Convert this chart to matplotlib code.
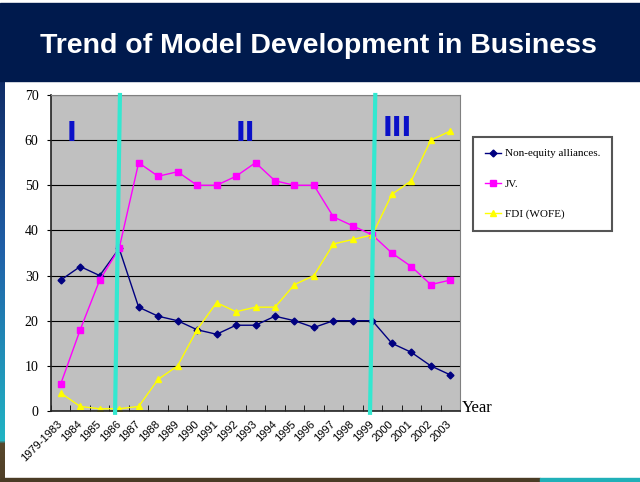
import numpy as np
import matplotlib
matplotlib.use('Agg')
import matplotlib.pyplot as plt
from matplotlib.patches import Rectangle

years = ['1979-1983', '1984', '1985', '1986', '1987', '1988', '1989', '1990',
         '1991', '1992', '1993', '1994', '1995', '1996', '1997', '1998',
         '1999', '2000', '2001', '2002', '2003']
non_equity = [29, 32, 30, 36, 23, 21, 20, 18, 17, 19, 19, 21, 20, 18.5, 20, 20,
              20, 15, 13, 10, 8]
jv = [6, 18, 29, 36, 55, 52, 53, 50, 50, 52, 55, 51, 50, 50, 43, 41,
      39, 35, 32, 28, 29]
fdi = [4, 1, 0.5, 0.5, 1, 7, 10, 18, 24, 22, 23, 23, 28, 30, 37, 38,
       39, 48, 51, 60, 62]
series_names = ['Non-equity alliances.', 'JV.', 'FDI (WOFE)']
phase_labels = ['I', 'II', 'III']

W, H = 640, 482
fig = plt.figure(figsize=(W / 100, H / 100), dpi=100, facecolor='white')

# slide decoration (header band, side strip)
bg = fig.add_axes([0, 0, 1, 1], zorder=-5)
bg.axis('off')
bg.add_patch(Rectangle((0, 3), W, 78, color='#001A4D'))
stops_y = [81, 250, 440, 443, 478]
stops_c = np.array([[0x10, 0x2c, 0x66], [0x20, 0x60, 0xa8], [0x22, 0xb4, 0xc4],
                    [0x58, 0x48, 0x2c], [0x50, 0x40, 0x28]]) / 255
yy = np.arange(81, 478)
grad = np.stack([np.interp(yy, stops_y, stops_c[:, k]) for k in range(3)], axis=1)
bg.imshow(grad[:, None, :], extent=[0, 5, 478, 81], aspect='auto', origin='upper')
bg.add_patch(Rectangle((0, 478), 540, 4, color='#4A3C25'))
bg.add_patch(Rectangle((540, 478), 100, 4, color='#20B0B8'))
bg.set_xlim(0, W)
bg.set_ylim(H, 0)

fig.text(0.497, 1 - 46 / H, 'Trend of Model Development in Business', color='white',
         fontsize=20.5, fontweight='bold', family='Liberation Sans', ha='center', va='center')

ax = fig.add_axes([51 / W, 71 / H, 409 / W, 316 / H])
x = np.arange(len(years))
ax.set_facecolor('#C0C0C0')
ax.set_xlim(-0.5, len(years) - 0.5)
ax.set_ylim(0, 70)
ax.set_yticks(range(0, 71, 10))
ax.yaxis.grid(True, color='black', lw=0.8)
ax.set_axisbelow(True)

ax.set_xticks(x)
ax.set_xticklabels(years, rotation=45, ha='right', va='center', rotation_mode='anchor',
                   fontsize=8, family='Liberation Sans')
ax.set_xticks(np.arange(-0.5, len(years)), minor=True)
ax.tick_params(axis='x', which='major', length=0, pad=8)
ax.tick_params(axis='x', which='minor', direction='in', length=4, color='black')
ax.tick_params(axis='y', direction='out', length=3, labelsize=10, pad=6)
for lab in ax.get_yticklabels():
    lab.set_family('Liberation Serif')

for side in ['top', 'right']:
    ax.spines[side].set_color('#808080')
for side in ['left', 'bottom']:
    ax.spines[side].set_color('#222222')
    ax.spines[side].set_linewidth(1.2)

ax.plot(x, non_equity, color='#000080', marker='D', ms=3.5, lw=1, label=series_names[0])
ax.plot(x, jv, color='#FF00FF', marker='s', ms=4, lw=1, label=series_names[1])
ax.plot(x, fdi, color='#FFFF00', marker='^', ms=5, lw=1, label=series_names[2])

# phase dividers (slightly slanted, as drawn on the slide)
ax.plot([3.04, 2.79], [70, -0.4], color='#33E8D0', lw=3, clip_on=False, zorder=5)
ax.plot([16.15, 15.88], [70, -0.4], color='#33E8D0', lw=3, clip_on=False, zorder=5)

for lab, px, py in zip(phase_labels, [0.53, 9.46, 17.27], [61.4, 61.4, 62.5]):
    ax.text(px, py, lab, color='#0A10C8', fontsize=19, fontweight='bold',
            family='Liberation Sans Narrow', ha='center', va='center')

fig.text(462 / W, 1 - 412 / H, 'Year', family='Liberation Serif', fontsize=12,
         va='baseline', ha='left')

leg = ax.legend(loc='upper left', bbox_to_anchor=(473 / W, 1 - 137 / H),
                bbox_transform=fig.transFigure, prop={'family': 'Liberation Serif', 'size': 8},
                frameon=True, fancybox=False, edgecolor='#555555', labelspacing=1.85,
                handlelength=1.5, handletextpad=0.3, borderpad=1.05, borderaxespad=0)
leg.get_frame().set_linewidth(1.5)
leg.get_frame().set_facecolor('white')
leg.get_frame().set_alpha(1)

fig.savefig('out.png', dpi=100)
